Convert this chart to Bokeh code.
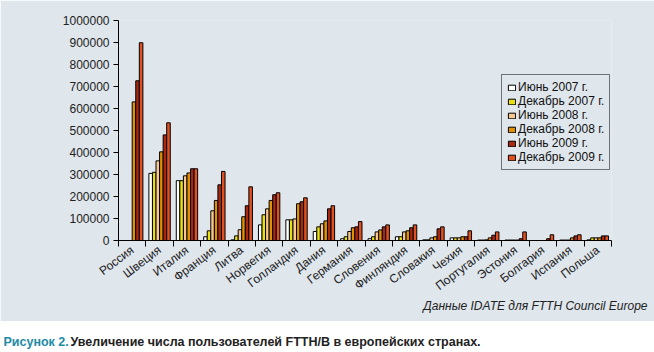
from bokeh.plotting import figure
from bokeh.models import (ColumnDataSource, Range1d, FixedTicker, Legend, LegendItem,
                          Title, NumeralTickFormatter)
from bokeh.layouts import column
from bokeh.embed import file_html
from bokeh.resources import INLINE
from bokeh.core.properties import value

countries = ["Россия", "Швеция", "Италия", "Франция", "Литва", "Норвегия", "Голландия",
             "Дания", "Германия", "Словения", "Финляндия", "Словакия", "Чехия",
             "Португалия", "Эстония", "Болгария", "Испания", "Польша"]

series_names = ["Июнь 2007 г.", "Декабрь 2007 г.", "Июнь 2008 г.",
                "Декабрь 2008 г.", "Июнь 2009 г.", "Декабрь 2009 г."]

jun2007 = [0, 305000, 272000, 17000, 3000, 71000, 94000, 41000, 8000, 8000, 17000, 3000,
           12000, 2000, 2000, 0, 2000, 3000]
dec2007 = [0, 310000, 272000, 44000, 21000, 117000, 94000, 62000, 17000, 17000, 17000, 3000,
           12000, 2000, 2000, 0, 2000, 12000]
jun2008 = [0, 362000, 294000, 135000, 49000, 144000, 98000, 76000, 41000, 39000, 39000, 12000,
           12000, 3000, 2000, 0, 2000, 12000]
dec2008 = [630000, 403000, 307000, 182000, 108000, 182000, 167000, 89000, 58000, 48000, 44000,
           17000, 17000, 12000, 2000, 0, 12000, 12000]
jun2009 = [726000, 480000, 326000, 253000, 158000, 208000, 176000, 144000, 62000, 62000, 58000,
           53000, 17000, 24000, 8000, 8000, 21000, 21000]
dec2009 = [899000, 535000, 326000, 314000, 244000, 217000, 194000, 158000, 86000, 71000, 71000,
           62000, 44000, 39000, 39000, 26000, 26000, 21000]

series = [jun2007, dec2007, jun2008, dec2008, jun2009, dec2009]
colors = ["#ffffff", "#e8e010", "#f8c890", "#e09000", "#a82810", "#e05020"]

y_ticks = list(range(0, 1000001, 100000))

BG = "#dfe6ec"
FONT = "Liberation Sans"

n = len(countries)
p = figure(width=654, height=321, x_range=Range1d(-0.5, n - 0.5), y_range=Range1d(0, 1000000),
           output_backend="svg", toolbar_location=None,
           min_border_left=118, min_border_right=43, min_border_top=20, min_border_bottom=81,
           background_fill_color=BG, border_fill_color=BG, outline_line_color=None)
p.xgrid.visible = False
p.ygrid.visible = False

w = 0.13
items = []
for k, (name, vals, col) in enumerate(zip(series_names, series, colors)):
    xs = [i + (k - 2.5) * w for i in range(n)]
    src = ColumnDataSource(dict(x=xs, top=vals))
    r = p.vbar(x="x", top="top", width=w, source=src, fill_color=col,
               line_color="black", line_width=1)
    items.append(LegendItem(label=name, renderers=[r]))

xa = p.xaxis[0]
xa.ticker = FixedTicker(ticks=list(range(n)), minor_ticks=[i - 0.5 for i in range(n + 1)])
xa.major_label_overrides = {i: c for i, c in enumerate(countries)}
xa.major_label_orientation = 0.65
xa.major_label_standoff = 2
xa.major_tick_out = 0
xa.major_tick_in = 0
xa.minor_tick_out = 6
xa.minor_tick_in = 0
xa.minor_tick_line_color = "black"
xa.axis_line_color = "black"
xa.major_label_text_font = FONT
xa.major_label_text_font_size = "12px"
xa.major_label_text_color = "#222222"

ya = p.yaxis[0]
ya.ticker = FixedTicker(ticks=y_ticks)
ya.formatter = NumeralTickFormatter(format="0")
ya.major_tick_out = 5
ya.major_tick_in = 0
ya.minor_tick_out = 0
ya.minor_tick_in = 0
ya.major_label_standoff = 4
ya.axis_line_color = "black"
ya.major_tick_line_color = "black"
ya.major_label_text_font = FONT
ya.major_label_text_font_size = "12px"
ya.major_label_text_color = "#222222"

legend = Legend(items=items, location=(383, 70), label_text_font=FONT,
                label_text_font_size="12px", label_text_color="#111111",
                glyph_width=9, glyph_height=7, label_height=12, label_standoff=2,
                spacing=0, padding=5, margin=0, border_line_color="black",
                border_line_width=1, background_fill_color=BG, background_fill_alpha=1)
p.add_layout(legend)

p.add_layout(Title(text="Данные IDATE для FTTH Council Europe", align="right", offset=-36,
                   standoff=-9, text_font=FONT, text_font_style="italic",
                   text_font_size="12px", text_color="#222222"), "below")

c = figure(width=654, height=31, x_range=Range1d(0, 654), y_range=Range1d(0, 31),
           output_backend="svg", toolbar_location=None, min_border=0, frame_align=False,
           x_axis_type=None, y_axis_type=None,
           background_fill_color="white", border_fill_color="white", outline_line_color=None)
c.grid.visible = False
c.text(x=[3], y=[11], text=["Рисунок 2."], text_baseline="middle",
       text_font=value(FONT), text_font_style="bold", text_font_size="12.5px",
       text_color="#1e8aa6")
c.text(x=[70], y=[11], text=["Увеличение числа пользователей FTTH/B в европейских странах."],
       text_baseline="middle", text_font=value(FONT), text_font_style="bold",
       text_font_size="12.5px", text_color="#222222")

layout = column(p, c, spacing=0)
open("out.html", "w").write(file_html(layout, INLINE))
